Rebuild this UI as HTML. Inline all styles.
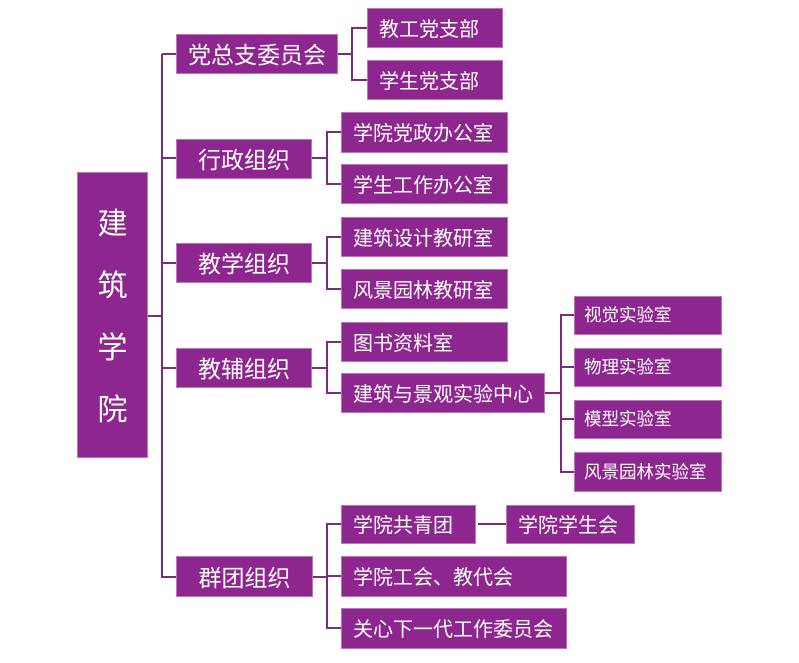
<!DOCTYPE html>
<html><head><meta charset="utf-8"><style>
html,body{margin:0;padding:0;background:#fff;}
body{width:799px;height:663px;position:relative;overflow:hidden;font-family:"Liberation Sans","Noto Sans CJK SC",sans-serif;}
.b{position:absolute;background:#8E268F;border:1px solid #B878B8;box-sizing:border-box;color:#fff;display:flex;align-items:center;white-space:nowrap;padding-bottom:2px;}
.l1{font-size:23px;justify-content:center;}
.l2{font-size:20px;padding-left:11px;}
.l3{font-size:17.5px;padding-left:9px;}
.root{font-size:30px;flex-direction:column;justify-content:center;padding-top:6px;padding-bottom:0;}
.root span{display:block;height:62px;line-height:62px;}
svg{position:absolute;left:0;top:0;}
</style></head><body>
<svg width="799" height="663" viewBox="0 0 799 663">
<g stroke="#7A2B7C" stroke-width="2" fill="none">
<line x1="162" y1="54" x2="162" y2="578"/>
<line x1="147" y1="316" x2="162" y2="316"/>
<line x1="162" y1="54" x2="177" y2="54"/>
<line x1="162" y1="158" x2="177" y2="158"/>
<line x1="162" y1="263" x2="177" y2="263"/>
<line x1="162" y1="368" x2="177" y2="368"/>
<line x1="161" y1="577" x2="177" y2="577"/>
<line x1="337" y1="54" x2="352" y2="54"/>
<polyline points="368,28 352,28 352,80 368,80"/>
<line x1="311" y1="158" x2="327" y2="158"/>
<polyline points="342,132 327,132 327,184 342,184"/>
<line x1="311" y1="263" x2="327" y2="263"/>
<polyline points="342,237 327,237 327,289 342,289"/>
<line x1="311" y1="368" x2="327" y2="368"/>
<polyline points="342,342 327,342 327,393 342,393"/>
<line x1="544" y1="393" x2="561" y2="393"/>
<polyline points="575,315 561,315 561,472 575,472"/>
<line x1="561" y1="367" x2="575" y2="367"/>
<line x1="561" y1="419" x2="575" y2="419"/>
<line x1="312" y1="577" x2="327" y2="577"/>
<polyline points="342,524 327,524 327,628 342,628"/>
<line x1="327" y1="576" x2="342" y2="576"/>
<line x1="478" y1="524" x2="507" y2="524"/>
</g>
</svg>

<div class="b root" style="left:77px;top:172px;width:71px;height:286px;"><span>建</span><span>筑</span><span>学</span><span>院</span></div>

<div class="b l1" style="left:176px;top:34px;width:162px;height:40px;">党总支委员会</div>
<div class="b l1" style="left:176px;top:139px;width:136px;height:40px;">行政组织</div>
<div class="b l1" style="left:176px;top:243px;width:136px;height:40px;">教学组织</div>
<div class="b l1" style="left:176px;top:348px;width:136px;height:40px;">教辅组织</div>
<div class="b l1" style="left:176px;top:556px;width:137px;height:41px;">群团组织</div>

<div class="b l2" style="left:367px;top:8px;width:136px;height:40px;">教工党支部</div>
<div class="b l2" style="left:367px;top:60px;width:136px;height:40px;">学生党支部</div>

<div class="b l2" style="left:341px;top:112px;width:167px;height:41px;">学院党政办公室</div>
<div class="b l2" style="left:341px;top:164px;width:167px;height:40px;">学生工作办公室</div>

<div class="b l2" style="left:341px;top:217px;width:167px;height:40px;">建筑设计教研室</div>
<div class="b l2" style="left:341px;top:269px;width:167px;height:40px;">风景园林教研室</div>

<div class="b l2" style="left:341px;top:322px;width:167px;height:40px;">图书资料室</div>
<div class="b l2" style="left:341px;top:373px;width:204px;height:40px;">建筑与景观实验中心</div>

<div class="b l3" style="left:574px;top:296px;width:148px;height:39px;">视觉实验室</div>
<div class="b l3" style="left:574px;top:348px;width:148px;height:39px;">物理实验室</div>
<div class="b l3" style="left:574px;top:400px;width:148px;height:39px;">模型实验室</div>
<div class="b l3" style="left:574px;top:452px;width:148px;height:40px;">风景园林实验室</div>

<div class="b l2" style="left:341px;top:505px;width:135px;height:39px;">学院共青团</div>
<div class="b l2" style="left:506px;top:505px;width:129px;height:39px;">学院学生会</div>
<div class="b l2" style="left:341px;top:556px;width:226px;height:41px;">学院工会、教代会</div>
<div class="b l2" style="left:341px;top:608px;width:226px;height:41px;">关心下一代工作委员会</div>
</body></html>
